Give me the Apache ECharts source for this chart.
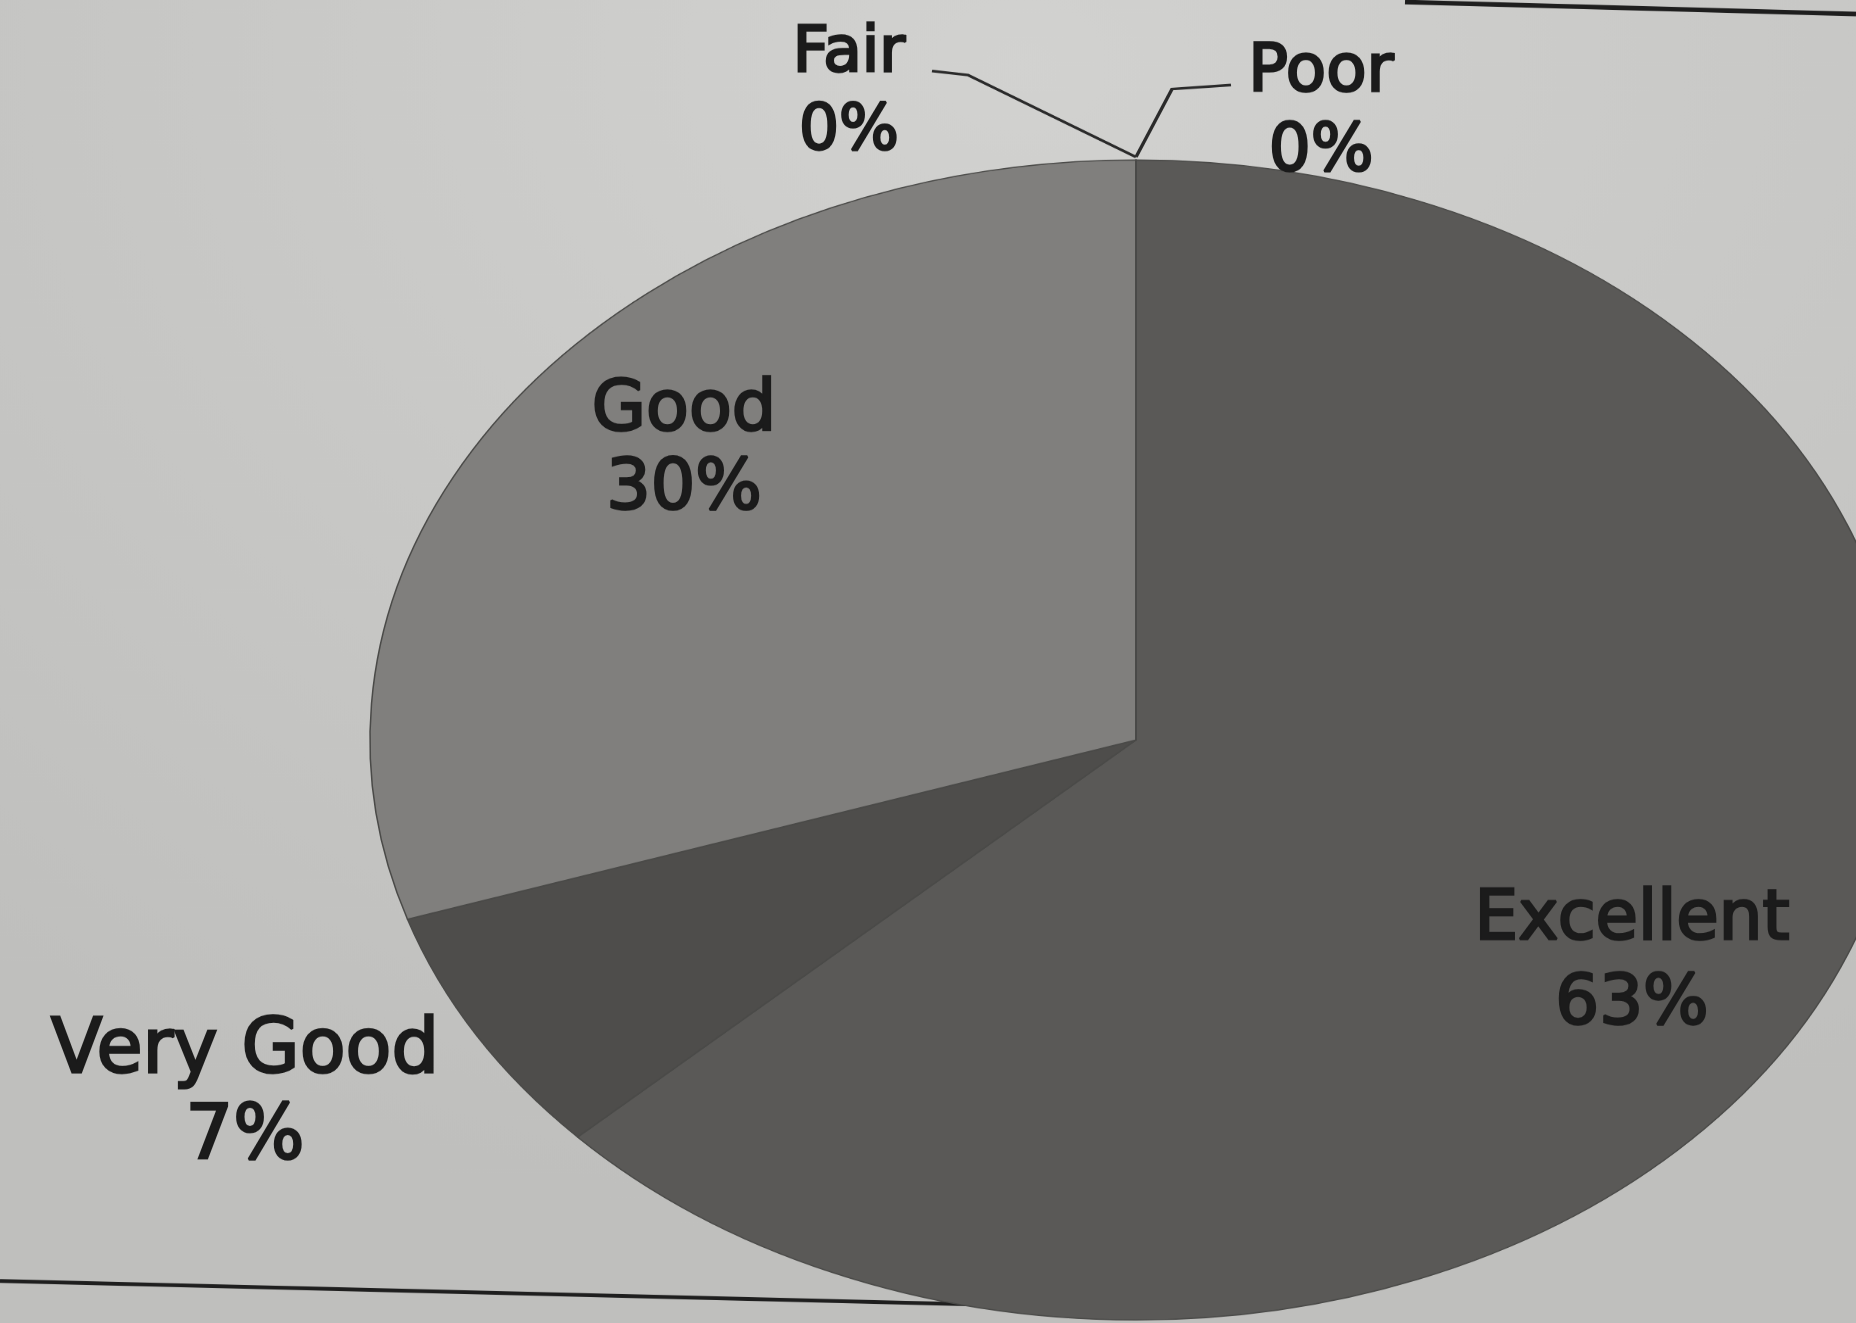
<!DOCTYPE html>
<html>
<head>
<meta charset="utf-8">
<script src="https://cdn.jsdelivr.net/npm/echarts@6/dist/echarts.min.js"></script>
<style>
  html, body { margin: 0; padding: 0; background: #c4c4c2; overflow: hidden; }
  #main { width: 1856px; transform-origin: 0 0; }
</style>
</head>
<body>
<div id="main"></div>
<script>
// data
const categories = ['Excellent', 'Very Good', 'Good', 'Fair', 'Poor']
const values = [63, 7, 30, 0, 0]
const colors = ['#5a5957', '#4e4d4b', '#807f7d', '#8a8a88', '#8a8a88']

// the photo shows the pie as an ellipse: squash the whole chart vertically
const S = 580 / 766
const Y = y => y / S
const dom = document.getElementById('main')
dom.style.height = (1323 / S) + 'px'
dom.style.transform = 'scaleY(' + S + ')'

// label layout (screen px): centre x, first line y, second line y, font size
const labelPos = {
  'Excellent': [1632, 921, 1006, 69],
  'Very Good': [245, 1053, 1139, 75],
  'Good': [684, 412, 491, 70],
  'Fair': [849, 55, 133, 63],
  'Poor': [1321, 74, 153, 66]
}

const total = values.reduce((a, b) => a + b, 0)

const graphics = []
// table rules seen in the photo
graphics.push({ type: 'line', z: 0, shape: { x1: 1405, y1: Y(2), x2: 1856, y2: Y(14) }, style: { stroke: '#1e1e1e', lineWidth: 6 } })
graphics.push({ type: 'line', z: 0, shape: { x1: 0, y1: Y(1281), x2: 1000, y2: Y(1305) }, style: { stroke: '#1e1e1e', lineWidth: 5 } })
// leader lines of the zero slices
graphics.push({ type: 'polyline', z: 5, shape: { points: [[932, Y(71)], [968, Y(75)], [1136, Y(157)]] }, style: { stroke: '#2a2a2a', lineWidth: 3.5, fill: null } })
graphics.push({ type: 'polyline', z: 5, shape: { points: [[1136, Y(157)], [1172, Y(89)], [1231, Y(85)]] }, style: { stroke: '#2a2a2a', lineWidth: 3.5, fill: null } })

categories.forEach((name, i) => {
  const p = labelPos[name]
  const pct = Math.round(values[i] / total * 100) + '%'
  ;[[name, p[1]], [pct, p[2]]].forEach(([txt, y]) => {
    graphics.push({
      type: 'text', z: 10,
      x: p[0], y: Y(y), scaleY: 1 / S,
      style: {
        text: txt,
        fill: '#1b1b1b',
        stroke: '#1b1b1b',
        lineWidth: 2.6,
        font: p[3] + 'px "DejaVu Sans"',
        align: 'center',
        verticalAlign: 'middle'
      }
    })
  })
})

const myChart = echarts.init(dom)
myChart.setOption({
  backgroundColor: {
    type: 'radial', x: 0.55, y: 0.05, r: 0.9,
    colorStops: [
      { offset: 0, color: '#d2d2d0' },
      { offset: 1, color: '#bfbfbd' }
    ]
  },
  animation: false,
  graphic: graphics,
  series: [
    {
      type: 'pie',
      center: [1136, Y(740)],
      radius: 766,
      startAngle: 90,
      clockwise: true,
      label: { show: false },
      labelLine: { show: false },
      itemStyle: { borderColor: '#4a4a48', borderWidth: 1.5 },
      data: categories.map((name, i) => ({
        name: name,
        value: values[i],
        itemStyle: { color: colors[i] }
      }))
    }
  ]
})
</script>
</body>
</html>
